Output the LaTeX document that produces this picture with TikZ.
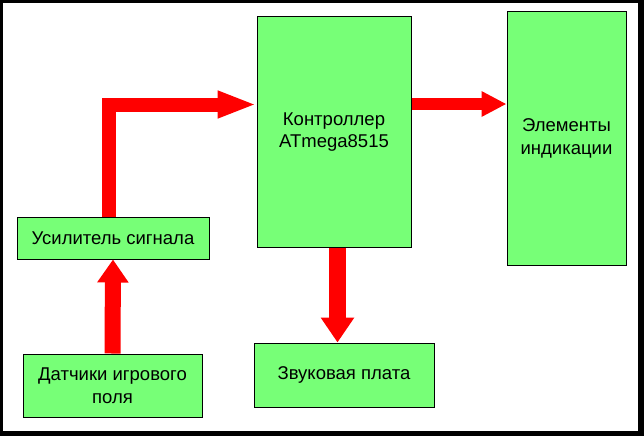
\documentclass[tikz,border=0pt]{standalone}
\usepackage{fontspec}
\setmainfont{Liberation Sans}
\usetikzlibrary{arrows.meta}
\definecolor{boxgreen}{RGB}{119,255,119}
\definecolor{arrred}{RGB}{255,0,0}
\tikzset{
  blk/.style={draw=black, line width=1pt, fill=boxgreen, inner sep=0pt, align=center, font=\fontsize{18.5}{22.5}\selectfont},
  redarr/.style={draw=arrred, line cap=butt, line join=miter},
}
\begin{document}
\begin{tikzpicture}[x=1pt,y=-1pt]
\fill[black] (0,0) rectangle (644,436);
\fill[white] (3,3) rectangle (638,431);
\useasboundingbox (0,0) rectangle (644,436);

\node[blk, minimum width=192pt, minimum height=42pt] (amp) at (113,238) {Усилитель сигнала};
\node[blk, minimum width=179pt, minimum height=63pt] (sens) at (112.5,385.5) {Датчики игрового\\поля};
\node[blk, minimum width=154pt, minimum height=230pt] (ctrl) at (334,132) {Контроллер\\ATmega8515};
\node[blk, minimum width=119pt, minimum height=253pt] (ind) at (566.5,138.5) {Элементы\\индикации};
\node[blk, minimum width=180pt, minimum height=64pt] (snd) at (344,375) {Звуковая плата};

\coordinate (bend) at (109,104.5);
\coordinate (row) at (0,104);
\coordinate (col) at (337.5,0);

\draw[redarr, line width=16pt, -{Triangle[length=23pt,width=30pt]}] (sens.north) -- (amp.south);
\draw[redarr, line width=14pt, -{Triangle[length=39pt,width=25pt]}] (amp.north -| bend) -- (bend) -- (ctrl.west |- bend);
\draw[redarr, line width=12pt, -{Triangle[length=25pt,width=24pt]}] (ctrl.east |- row) -- (ind.west |- row);
\draw[redarr, line width=17pt, -{Triangle[length=25pt,width=32pt]}] (ctrl.south -| col) -- (snd.north -| col);
\end{tikzpicture}
\end{document}
